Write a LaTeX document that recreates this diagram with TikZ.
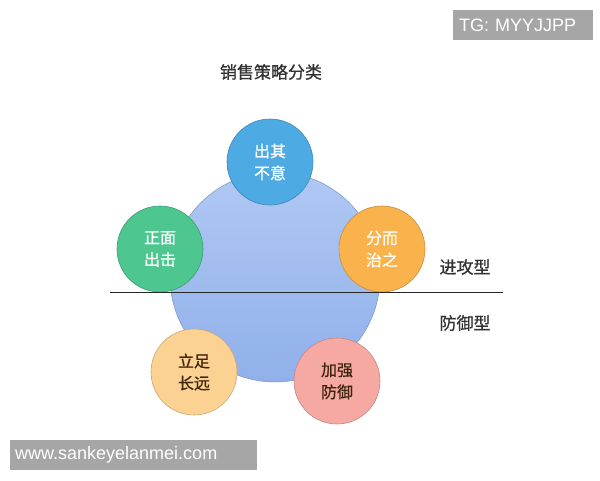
\documentclass[tikz,border=0pt]{standalone}
\usepackage{fontspec}
\setmainfont{Liberation Sans}
\newfontfamily\cjk[FakeBold=0.8]{Noto Sans CJK SC}
\usetikzlibrary{positioning}
\definecolor{hubtop}{HTML}{B0C8F3}
\definecolor{hubbot}{HTML}{90B0EA}
\definecolor{skyblue}{HTML}{4DAAE2}
\definecolor{leafgreen}{HTML}{4EC690}
\definecolor{amber}{HTML}{F9B24C}
\definecolor{peach}{HTML}{FBD291}
\definecolor{salmon}{HTML}{F5A9A2}
\definecolor{darkbrown}{HTML}{3F2410}
\definecolor{markgray}{HTML}{A6A6A6}
\tikzset{ball/.style={circle, draw=#1!80!black, fill=#1, line width=0.6pt,
    minimum size=86pt, inner sep=0pt, align=center,
    font=\cjk\fontsize{16}{22}\selectfont},
  tag/.style={font=\cjk\fontsize{17}{20}\selectfont, text=black!80},
  stamp/.style={fill=markgray, text=white, anchor=north west, minimum height=30pt,
    align=left, inner ysep=0pt, font=\fontsize{18}{20}\selectfont}}

\begin{document}
\begin{tikzpicture}[x=1pt, y=-1pt]
  \useasboundingbox[fill=white] (0,0) rectangle (600,480);
  \node[tag] (titel) at (271,72) {销售策略分类};
  \node[circle, draw=hubbot!85!black, line width=0.5pt, top color=hubtop, bottom color=hubbot,
    minimum size=210pt] (kern) at (275,277) {};
  \node[ball=skyblue, text=white] (uitval) at (270,162) {出其\\不意};
  \node[ball=leafgreen, text=white] (frontaal) at (160,249) {正面\\出击};
  \node[ball=amber, text=white] (verdeel) at (382,249) {分而\\治之};
  \node[ball=peach, text=darkbrown] (lange) at (194,372) {立足\\长远};
  \node[ball=salmon, text=darkbrown] (verdedig) at (337,381) {加强\\防御};
  % scheidslijn tussen aanval en verdediging
  \coordinate (lijnL) at (110,292);
  \coordinate (lijnR) at (503,292);
  \draw[line width=0.9pt, black!85] (lijnL) -- (lijnR);
  \node[tag] (aanval) at (465,267) {进攻型};
  \node[tag] (verdediging) at (465,323) {防御型};
  \node[stamp, text width=128pt, inner xsep=6pt] (tg) at (453,10) {TG: MYYJJPP};
  \node[stamp, text width=237pt, inner xsep=5pt] (site) at (10,440) {www.sankeyelanmei.com};
\end{tikzpicture}
\end{document}
